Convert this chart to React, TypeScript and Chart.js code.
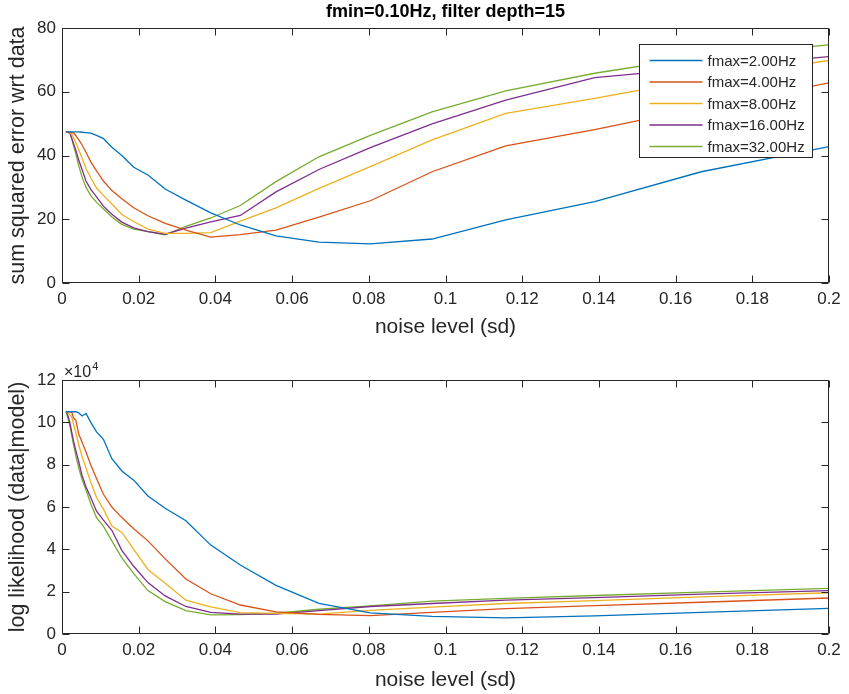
import React, { useEffect, useRef } from "react";
import { Chart, registerables } from "chart.js";

Chart.register(...registerables);

// ---- data ----
const noiseLevels = [
  0.00101, 0.00121, 0.00146, 0.00175, 0.0021, 0.00252, 0.00302, 0.00362, 0.00435, 0.00522,
  0.00626, 0.0075, 0.009, 0.0108, 0.013, 0.0156, 0.0187, 0.0224, 0.0269, 0.0323,
  0.0388, 0.0465, 0.0558, 0.067, 0.0804, 0.0965, 0.1157, 0.1389, 0.1667, 0.2,
];

const seriesLabels = ["fmax=2.00Hz", "fmax=4.00Hz", "fmax=8.00Hz", "fmax=16.00Hz", "fmax=32.00Hz"];
const seriesColors = ["#0072BD", "#D95319", "#EDB120", "#7E2F8E", "#77AC30"];

// sum squared error wrt data
const sseF2 = [47.4, 47.4, 47.4, 47.4, 47.4, 47.4, 47.4, 47.4, 47.4, 47.3, 47.2, 47.0, 46.3, 45.3, 42.6, 40.0, 36.3, 33.9, 29.5, 26.0, 22.0, 18.2, 14.8, 12.8, 12.3, 13.8, 19.8, 25.5, 34.9, 42.8];
const sseF4 = [47.4, 47.4, 47.4, 47.3, 47.3, 47.2, 47.1, 46.2, 45.0, 43.3, 41.0, 38.0, 35.2, 32.0, 29.0, 26.4, 23.6, 21.1, 18.7, 16.6, 14.4, 15.2, 16.6, 20.7, 25.8, 34.9, 43.0, 48.1, 55.0, 62.8];
const sseF8 = [47.4, 47.4, 47.3, 47.2, 47.1, 46.8, 45.5, 44.0, 41.8, 39.2, 35.9, 33.0, 29.8, 27.5, 24.8, 21.5, 19.3, 16.9, 15.6, 15.6, 15.8, 19.4, 23.6, 29.7, 36.5, 44.9, 53.2, 57.9, 64.0, 69.8];
const sseF16 = [47.4, 47.4, 47.3, 47.2, 47.0, 45.4, 43.7, 41.6, 38.6, 35.6, 32.0, 29.4, 27.0, 24.1, 21.6, 19.1, 17.3, 16.1, 15.3, 17.2, 19.2, 21.2, 28.6, 35.6, 42.5, 49.9, 57.4, 64.4, 67.5, 71.0];
const sseF32 = [47.4, 47.4, 47.3, 47.2, 46.9, 45.5, 43.0, 40.5, 36.8, 33.3, 30.0, 27.5, 25.3, 23.3, 20.7, 18.4, 16.9, 16.1, 15.1, 17.8, 20.4, 24.3, 31.8, 39.6, 46.3, 53.7, 60.3, 65.8, 71.0, 74.7];

// log likelihood (data|model), in units of 10^4
const llF2 = [10.5, 10.5, 10.5, 10.5, 10.5, 10.5, 10.5, 10.5, 10.45, 10.3, 10.42, 10.0, 9.55, 9.2, 8.28, 7.7, 7.27, 6.52, 5.94, 5.35, 4.2, 3.26, 2.3, 1.45, 1.0, 0.83, 0.76, 0.86, 1.02, 1.21];
const llF4 = [10.5, 10.5, 10.5, 10.5, 10.5, 10.5, 10.2, 10.1, 9.45, 9.07, 8.6, 7.98, 7.35, 6.6, 6.0, 5.5, 4.97, 4.4, 3.55, 2.6, 1.9, 1.37, 1.05, 0.93, 0.87, 1.02, 1.2, 1.34, 1.5, 1.7];
const llF8 = [10.5, 10.5, 10.45, 10.4, 10.35, 10.26, 9.9, 9.5, 8.94, 8.4, 7.85, 7.17, 6.45, 5.9, 5.1, 4.8, 4.0, 3.05, 2.4, 1.6, 1.28, 1.01, 0.97, 0.94, 1.12, 1.27, 1.44, 1.58, 1.75, 1.95];
const llF16 = [10.5, 10.5, 10.35, 10.2, 9.95, 9.55, 9.1, 8.65, 8.15, 7.5, 6.95, 6.45, 5.8, 5.38, 4.9, 3.95, 3.2, 2.43, 1.8, 1.3, 1.02, 0.94, 0.94, 1.1, 1.3, 1.44, 1.6, 1.72, 1.88, 2.05];
const llF32 = [10.5, 10.4, 10.25, 10.05, 9.8, 9.4, 8.95, 8.4, 7.85, 7.3, 6.8, 6.15, 5.5, 5.08, 4.4, 3.6, 2.85, 2.05, 1.53, 1.1, 0.9, 0.92, 0.98, 1.17, 1.33, 1.55, 1.68, 1.82, 1.98, 2.16];

const xTicks = [0, 0.02, 0.04, 0.06, 0.08, 0.1, 0.12, 0.14, 0.16, 0.18, 0.2];
const sseTicks = [0, 20, 40, 60, 80];
const llTicks = [0, 2, 4, 6, 8, 10, 12];

const titleText = "fmin=0.10Hz, filter depth=15";
const xTitle = "noise level (sd)";
const sseTitle = "sum squared error wrt data";
const llTitle = "log likelihood (data|model)";
const llExponent = "4";

// ---- styling ----
const FONT = "'Liberation Sans', Arial, Helvetica, sans-serif";
const AXIS = "#262626";
const W = 849;
const H = 347;
const TICK_FONT = 17;
const LABEL_FONT = 21;

const fmt = (v: number) => String(+Number(v).toFixed(4));

const axesBox = {
  id: "axesBox",
  afterDatasetsDraw(chart: any) {
    const { ctx, chartArea, scales } = chart;
    const { left, right, top, bottom } = chartArea;
    const L = Math.round(left) + 0.5;
    const R = Math.round(right) - 0.5;
    const T = Math.round(top) + 0.5;
    const B = Math.round(bottom) - 0.5;
    const len = 7;
    ctx.save();
    ctx.strokeStyle = AXIS;
    ctx.lineWidth = 1;
    ctx.beginPath();
    ctx.rect(L, T, R - L, B - T);
    scales.x.ticks.forEach((t: any) => {
      const px = Math.round(scales.x.getPixelForValue(t.value)) + 0.5;
      ctx.moveTo(px, B);
      ctx.lineTo(px, B - len);
      ctx.moveTo(px, T);
      ctx.lineTo(px, T + len);
    });
    scales.y.ticks.forEach((t: any) => {
      const py = Math.round(scales.y.getPixelForValue(t.value)) + 0.5;
      ctx.moveTo(L, py);
      ctx.lineTo(L + len, py);
      ctx.moveTo(R, py);
      ctx.lineTo(R - len, py);
    });
    ctx.stroke();
    ctx.restore();
  },
};

const axesTitle = {
  id: "axesTitle",
  afterDraw(chart: any) {
    const opts = chart.options.plugins.axesTitle;
    if (!opts || !opts.text) return;
    const { ctx, chartArea } = chart;
    ctx.save();
    ctx.fillStyle = "#000000";
    ctx.font = `bold 18px ${FONT}`;
    ctx.textAlign = "center";
    ctx.textBaseline = "middle";
    ctx.fillText(opts.text, (chartArea.left + chartArea.right) / 2, chartArea.top - 16);
    ctx.restore();
  },
};

const boxLegend = {
  id: "boxLegend",
  afterDraw(chart: any) {
    const opts = chart.options.plugins.boxLegend;
    if (!opts || !opts.display) return;
    const { ctx, chartArea } = chart;
    ctx.save();
    ctx.font = `15px ${FONT}`;
    const dsets = chart.data.datasets;
    const maxW = Math.max(...dsets.map((d: any) => ctx.measureText(d.label).width));
    const w = Math.round(68 + maxW + 8);
    const rowH = 21.5;
    const h = Math.round(16 + (dsets.length - 1) * rowH + 11);
    const x0 = Math.round(chartArea.right - 17 - w) + 0.5;
    const y0 = Math.round(chartArea.top + 16) + 0.5;
    ctx.fillStyle = "#ffffff";
    ctx.fillRect(x0, y0, w, h);
    ctx.strokeStyle = AXIS;
    ctx.lineWidth = 1;
    ctx.strokeRect(x0, y0, w, h);
    ctx.textBaseline = "middle";
    ctx.textAlign = "left";
    dsets.forEach((d: any, i: number) => {
      const cy = y0 + 16 + i * rowH;
      ctx.strokeStyle = d.borderColor;
      ctx.lineWidth = 1.5;
      ctx.beginPath();
      ctx.moveTo(x0 + 10, cy);
      ctx.lineTo(x0 + 63, cy);
      ctx.stroke();
      ctx.fillStyle = AXIS;
      ctx.fillText(d.label, x0 + 68, cy + 1);
    });
    ctx.restore();
  },
};

const exponentLabel = {
  id: "exponentLabel",
  afterDraw(chart: any) {
    const opts = chart.options.plugins.exponentLabel;
    if (!opts || !opts.display) return;
    const { ctx, chartArea } = chart;
    ctx.save();
    ctx.fillStyle = AXIS;
    ctx.textBaseline = "alphabetic";
    ctx.textAlign = "left";
    ctx.font = `16px ${FONT}`;
    const base = "\u00d710";
    const x = chartArea.left + 2;
    const y = chartArea.top - 3;
    ctx.fillText(base, x, y);
    const bw = ctx.measureText(base).width;
    ctx.font = `11px ${FONT}`;
    ctx.fillText(opts.text, x + bw + 1, y - 7);
    ctx.restore();
  },
};

function buildConfig(
  series: number[][],
  yTicks: number[],
  yTitle: string,
  opts: { title?: string; legend?: boolean; exponent?: string; padTop: number; xTitlePad: number; plotBottom: number }
): any {
  return {
    type: "line",
    data: {
      datasets: series.map((arr, i) => ({
        label: seriesLabels[i],
        data: noiseLevels.map((x, j) => ({ x, y: arr[j] })),
        borderColor: seriesColors[i],
        backgroundColor: seriesColors[i],
        borderWidth: 1.3,
        pointRadius: 0,
        tension: 0,
        fill: false,
      })),
    },
    options: {
      animation: false,
      responsive: false,
      devicePixelRatio: 1,
      layout: { padding: { left: 0, right: 20, top: opts.padTop, bottom: 0 } },
      plugins: {
        legend: { display: false },
        tooltip: { enabled: false },
        title: { display: false },
        axesTitle: { text: opts.title || "" },
        boxLegend: { display: !!opts.legend },
        exponentLabel: { display: !!opts.exponent, text: opts.exponent || "" },
      },
      scales: {
        x: {
          type: "linear",
          min: xTicks[0],
          max: xTicks[xTicks.length - 1],
          afterBuildTicks: (s: any) => {
            s.ticks = xTicks.map((v) => ({ value: v }));
          },
          afterFit: (s: any) => {
            s.height = H - opts.plotBottom;
          },
          grid: { display: false, drawTicks: false },
          border: { display: false },
          ticks: {
            callback: (v: any) => fmt(v),
            color: AXIS,
            font: { family: FONT, size: TICK_FONT },
            padding: 6,
            maxRotation: 0,
            autoSkip: false,
          },
          title: {
            display: true,
            text: xTitle,
            color: AXIS,
            font: { family: FONT, size: LABEL_FONT },
            padding: { top: 0, bottom: opts.xTitlePad },
          },
        },
        y: {
          type: "linear",
          min: yTicks[0],
          max: yTicks[yTicks.length - 1],
          afterBuildTicks: (s: any) => {
            s.ticks = yTicks.map((v) => ({ value: v }));
          },
          afterFit: (s: any) => {
            s.width = 62;
          },
          grid: { display: false, drawTicks: false },
          border: { display: false },
          ticks: {
            callback: (v: any) => fmt(v),
            color: AXIS,
            font: { family: FONT, size: TICK_FONT },
            padding: 6,
            autoSkip: false,
          },
          title: {
            display: true,
            text: yTitle,
            color: AXIS,
            font: { family: FONT, size: 21.5 },
            padding: { top: 5, bottom: 0 },
          },
        },
      },
    },
    plugins: [axesBox, axesTitle, boxLegend, exponentLabel],
  };
}

function ChartCanvas({ config }: { config: () => any }) {
  const ref = useRef<HTMLCanvasElement | null>(null);
  useEffect(() => {
    if (!ref.current) return;
    const chart = new Chart(ref.current, config());
    return () => chart.destroy();
  }, []);
  return <canvas ref={ref} width={W} height={H} style={{ display: "block", width: W, height: H }} />;
}

export default function App() {
  return (
    <div style={{ position: "fixed", left: 0, top: 0, width: W, height: 2 * H, background: "#ffffff" }}>
      <ChartCanvas
        config={() =>
          buildConfig([sseF2, sseF4, sseF8, sseF16, sseF32], sseTicks, sseTitle, {
            title: titleText,
            legend: true,
            padTop: 28,
            xTitlePad: 7.4,
            plotBottom: 283,
          })
        }
      />
      <ChartCanvas
        config={() =>
          buildConfig([llF2, llF4, llF8, llF16, llF32], llTicks, llTitle, {
            exponent: llExponent,
            padTop: 33,
            xTitlePad: 1.4,
            plotBottom: 287,
          })
        }
      />
    </div>
  );
}
